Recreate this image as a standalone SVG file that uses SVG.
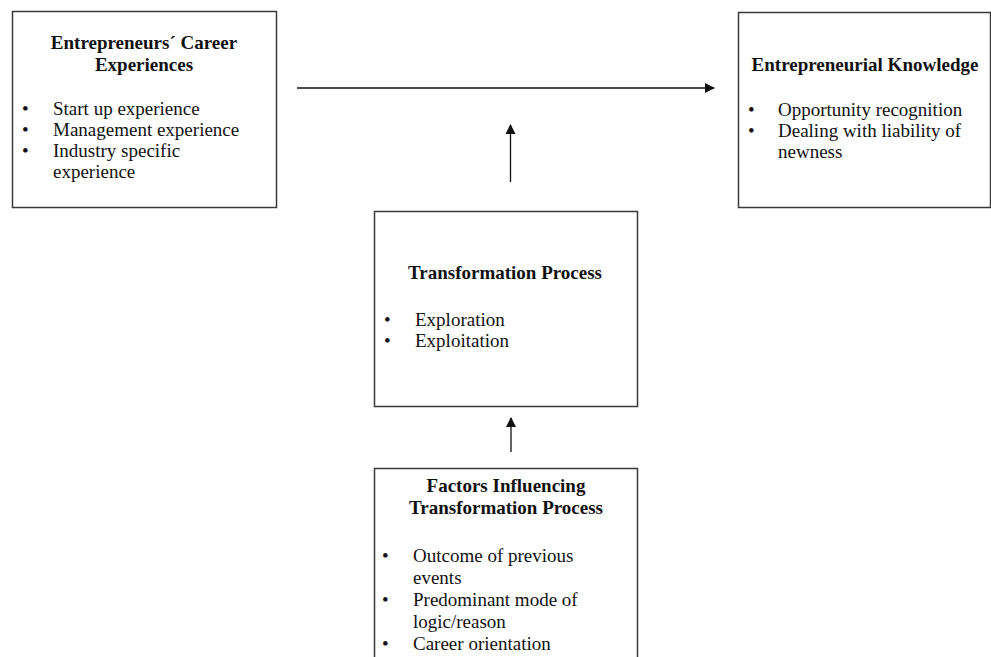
<svg xmlns="http://www.w3.org/2000/svg" width="991" height="657" viewBox="0 0 991 657">
<style>
.box{fill:#fff;stroke:#3a3a3a;stroke-width:1.5}
text{font-family:"Liberation Serif","Times New Roman",serif;font-size:19px;fill:#111}
.t{font-weight:bold;text-anchor:middle}
.c{stroke:#111;stroke-width:1.3;fill:none}
</style>
<defs>
<marker id="ah" viewBox="0 0 10 10" refX="9" refY="5" markerWidth="10" markerHeight="10" markerUnits="userSpaceOnUse" orient="auto">
<path d="M0,0 L10,5 L0,10 z" fill="#111"/>
</marker>
</defs>
<rect width="991" height="657" fill="#fff"/>
<g id="career">
<rect class="box" x="12.5" y="11.5" width="264" height="196"/>
<text class="t" x="144" y="49">Entrepreneurs´ Career</text>
<text class="t" x="144" y="71">Experiences</text>
<text x="22" y="115">•</text><text x="53" y="115">Start up experience</text>
<text x="22" y="136">•</text><text x="53" y="136">Management experience</text>
<text x="22" y="157">•</text><text x="53" y="157">Industry specific</text>
<text x="53" y="178">experience</text>
</g>
<g id="knowledge">
<rect class="box" x="738.5" y="12.5" width="252" height="195"/>
<text class="t" x="865" y="71">Entrepreneurial Knowledge</text>
<text x="748" y="116">•</text><text x="778" y="116">Opportunity recognition</text>
<text x="748" y="137">•</text><text x="778" y="137">Dealing with liability of</text>
<text x="778" y="158">newness</text>
</g>
<g id="transformation">
<rect class="box" x="374.5" y="211.5" width="263" height="195"/>
<text class="t" x="505" y="279">Transformation Process</text>
<text x="384" y="326">•</text><text x="415" y="326">Exploration</text>
<text x="384" y="347">•</text><text x="415" y="347">Exploitation</text>
</g>
<g id="factors">
<rect class="box" x="374.5" y="468.5" width="263" height="200"/>
<text class="t" x="506" y="492">Factors Influencing</text>
<text class="t" x="506" y="514">Transformation Process</text>
<text x="382" y="562">•</text><text x="413" y="562">Outcome of previous</text>
<text x="413" y="584">events</text>
<text x="382" y="606">•</text><text x="413" y="606">Predominant mode of</text>
<text x="413" y="628">logic/reason</text>
<text x="382" y="650">•</text><text x="413" y="650">Career orientation</text>
</g>
<g id="connectors">
<line class="c" x1="297" y1="88" x2="714" y2="88" marker-end="url(#ah)"/>
<line class="c" x1="510.5" y1="182" x2="510.5" y2="125" marker-end="url(#ah)"/>
<line class="c" x1="511" y1="452" x2="511" y2="418" marker-end="url(#ah)"/>
</g>
</svg>
